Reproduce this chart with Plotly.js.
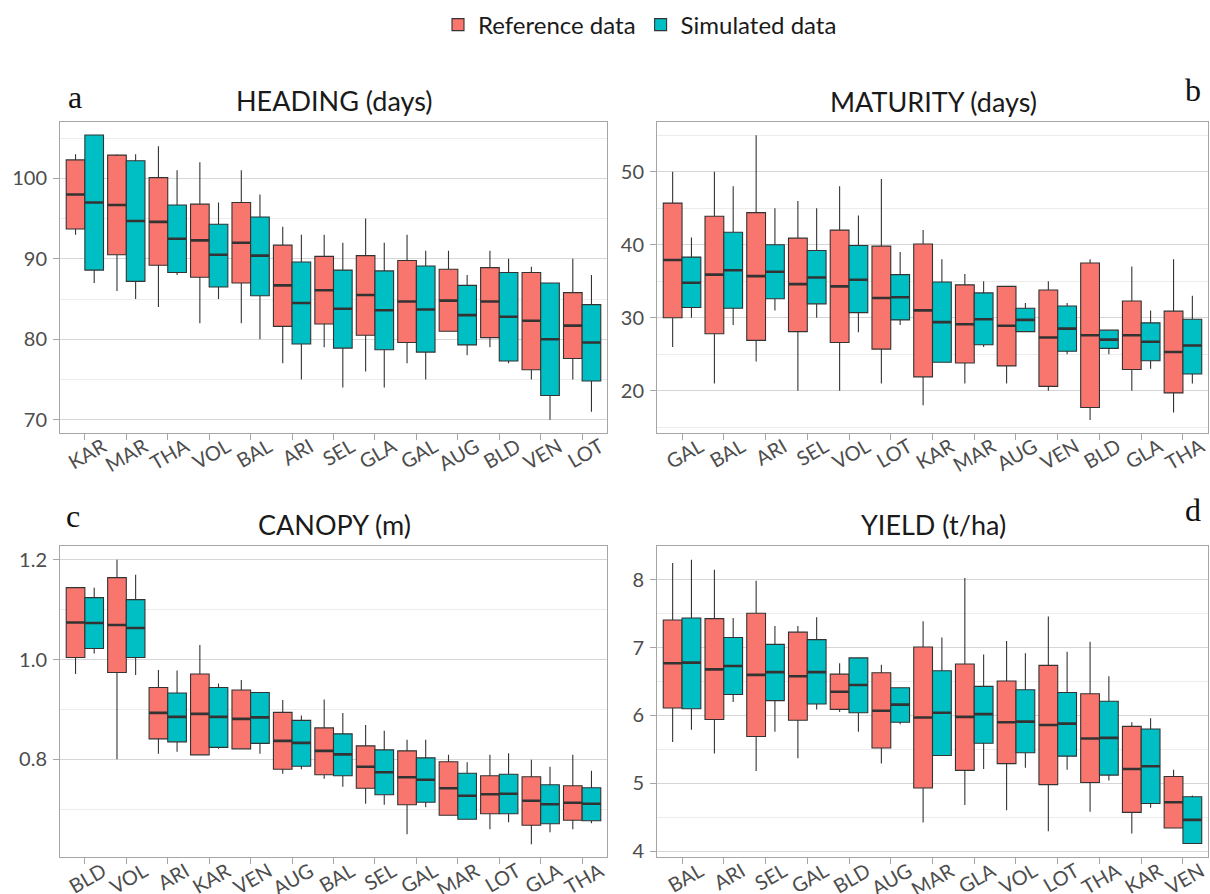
<!DOCTYPE html>
<html>
<head>
<meta charset="utf-8">
<script src="https://cdn.plot.ly/plotly-3.0.1.min.js"></script>
<style>
  html, body { margin: 0; padding: 0; background: #ffffff; }
  #chart { width: 1210px; height: 894px; }
</style>
</head>
<body>
<div id="chart"></div>
<script>
// Box statistics per variety: [lower whisker, Q1, median, Q3, upper whisker]

// a — heading (days)
const headingCats = ["KAR", "MAR", "THA", "VOL", "BAL", "ARI", "SEL", "GLA", "GAL", "AUG", "BLD", "VEN", "LOT"];
const headingRef = [
  [93.0, 93.7, 98.0, 102.3, 103.0],
  [86.0, 90.5, 96.7, 102.9, 103.0],
  [84.0, 89.2, 94.6, 100.1, 104.0],
  [82.0, 87.7, 92.3, 96.8, 102.0],
  [82.0, 87.0, 92.0, 97.0, 101.0],
  [77.0, 81.6, 86.7, 91.7, 94.0],
  [79.0, 81.9, 86.1, 90.3, 93.0],
  [76.0, 80.5, 85.5, 90.4, 95.0],
  [77.0, 79.6, 84.7, 89.8, 93.0],
  [81.0, 81.0, 84.8, 88.7, 91.0],
  [79.0, 80.2, 84.7, 88.9, 91.0],
  [75.0, 76.2, 82.3, 88.3, 89.0],
  [75.0, 77.6, 81.7, 85.8, 90.0]
];
const headingSim = [
  [87.0, 88.6, 97.0, 105.4, 105.4],
  [85.0, 87.2, 94.7, 102.2, 103.0],
  [88.0, 88.3, 92.5, 96.7, 101.0],
  [85.0, 86.5, 90.5, 94.3, 97.0],
  [80.0, 85.4, 90.4, 95.2, 98.0],
  [75.0, 79.4, 84.5, 89.6, 93.0],
  [74.0, 78.9, 83.8, 88.6, 92.0],
  [74.0, 78.7, 83.6, 88.5, 92.0],
  [75.0, 78.4, 83.7, 89.1, 91.0],
  [78.0, 79.3, 83.0, 86.7, 88.0],
  [77.0, 77.3, 82.8, 88.3, 90.0],
  [70.0, 73.0, 80.0, 87.0, 87.0],
  [71.0, 74.8, 79.6, 84.3, 88.0]
];

// b — maturity (days)
const maturityCats = ["GAL", "BAL", "ARI", "SEL", "VOL", "LOT", "KAR", "MAR", "AUG", "VEN", "BLD", "GLA", "THA"];
const maturityRef = [
  [26.0, 30.0, 37.9, 45.7, 50.0],
  [21.0, 27.8, 35.9, 43.9, 50.0],
  [24.0, 26.9, 35.7, 44.4, 55.0],
  [20.0, 28.1, 34.6, 40.9, 46.0],
  [20.0, 26.6, 34.3, 42.0, 48.0],
  [21.0, 25.7, 32.7, 39.8, 49.0],
  [18.0, 21.9, 31.0, 40.1, 42.0],
  [21.0, 23.8, 29.1, 34.5, 36.0],
  [21.0, 23.4, 28.9, 34.3, 34.3],
  [20.0, 20.6, 27.3, 33.8, 35.0],
  [16.0, 17.7, 27.6, 37.5, 38.0],
  [20.0, 22.9, 27.6, 32.3, 37.0],
  [17.0, 19.7, 25.3, 30.9, 38.0]
];
const maturitySim = [
  [30.0, 31.4, 34.8, 38.3, 41.0],
  [29.0, 31.3, 36.5, 41.7, 48.0],
  [31.0, 32.6, 36.3, 40.0, 45.0],
  [30.0, 31.9, 35.5, 39.2, 45.0],
  [28.0, 30.7, 35.2, 39.9, 44.0],
  [29.0, 29.7, 32.8, 35.9, 39.0],
  [23.9, 23.9, 29.4, 34.9, 38.0],
  [26.0, 26.3, 29.8, 33.4, 35.0],
  [28.1, 28.1, 29.7, 31.3, 32.0],
  [25.0, 25.4, 28.5, 31.6, 32.0],
  [25.0, 25.8, 27.0, 28.3, 28.3],
  [23.0, 24.1, 26.7, 29.3, 31.0],
  [21.0, 22.3, 26.2, 29.8, 33.0]
];

// c — canopy height (m)
const canopyCats = ["BLD", "VOL", "ARI", "KAR", "VEN", "AUG", "BAL", "SEL", "GAL", "MAR", "LOT", "GLA", "THA"];
const canopyRef = [
  [0.971, 1.004, 1.074, 1.144, 1.144],
  [0.800, 0.974, 1.069, 1.164, 1.200],
  [0.811, 0.841, 0.893, 0.944, 0.979],
  [0.809, 0.809, 0.891, 0.971, 1.029],
  [0.821, 0.821, 0.881, 0.939, 0.959],
  [0.771, 0.780, 0.837, 0.894, 0.919],
  [0.761, 0.769, 0.817, 0.863, 0.920],
  [0.711, 0.742, 0.785, 0.827, 0.869],
  [0.650, 0.709, 0.764, 0.817, 0.839],
  [0.688, 0.688, 0.742, 0.795, 0.809],
  [0.660, 0.691, 0.730, 0.767, 0.809],
  [0.630, 0.668, 0.717, 0.765, 0.799],
  [0.660, 0.678, 0.713, 0.747, 0.809]
];
const canopySim = [
  [1.012, 1.022, 1.073, 1.124, 1.144],
  [0.969, 1.004, 1.063, 1.120, 1.170],
  [0.815, 0.835, 0.885, 0.933, 0.978],
  [0.821, 0.824, 0.885, 0.944, 0.952],
  [0.811, 0.832, 0.884, 0.934, 0.934],
  [0.780, 0.786, 0.833, 0.878, 0.888],
  [0.745, 0.767, 0.810, 0.851, 0.893],
  [0.709, 0.729, 0.774, 0.819, 0.857],
  [0.704, 0.714, 0.759, 0.803, 0.839],
  [0.680, 0.680, 0.727, 0.772, 0.794],
  [0.674, 0.691, 0.731, 0.770, 0.812],
  [0.654, 0.671, 0.710, 0.749, 0.785],
  [0.672, 0.677, 0.711, 0.743, 0.777]
];

// d — grain yield (t/ha)
const yieldCats = ["BAL", "ARI", "SEL", "GAL", "BLD", "AUG", "MAR", "GLA", "VOL", "LOT", "THA", "KAR", "VEN"];
const yieldRef = [
  [5.61, 6.11, 6.77, 7.41, 8.25],
  [5.44, 5.94, 6.68, 7.43, 8.15],
  [5.18, 5.69, 6.60, 7.51, 7.99],
  [5.37, 5.93, 6.58, 7.23, 7.32],
  [6.05, 6.09, 6.35, 6.61, 6.77],
  [5.29, 5.52, 6.07, 6.63, 6.75],
  [4.42, 4.93, 5.97, 7.01, 7.39],
  [4.68, 5.19, 5.98, 6.76, 8.03],
  [4.60, 5.29, 5.90, 6.51, 7.10],
  [4.29, 4.98, 5.86, 6.74, 7.46],
  [4.58, 5.01, 5.66, 6.32, 7.09],
  [4.26, 4.57, 5.21, 5.84, 5.90],
  [4.34, 4.34, 4.72, 5.10, 5.20]
];
const yieldSim = [
  [5.79, 6.10, 6.78, 7.44, 8.30],
  [6.20, 6.31, 6.73, 7.15, 7.44],
  [5.76, 6.22, 6.64, 7.05, 7.32],
  [6.09, 6.17, 6.64, 7.12, 7.45],
  [5.76, 6.04, 6.45, 6.85, 6.85],
  [5.87, 5.90, 6.16, 6.41, 6.41],
  [5.41, 5.41, 6.04, 6.66, 7.15],
  [5.21, 5.59, 6.02, 6.43, 6.90],
  [5.23, 5.45, 5.91, 6.38, 6.92],
  [5.20, 5.40, 5.88, 6.34, 6.94],
  [5.04, 5.12, 5.67, 6.21, 6.58],
  [4.64, 4.70, 5.25, 5.80, 5.96],
  [4.11, 4.11, 4.46, 4.80, 4.82]
];

const seriesNames = ["Reference data", "Simulated data"];
const seriesColors = ["#F8766D", "#00BFC4"];
const outline = "#333333";

const W = 1210, H = 894;
const px = v => v / W;
const py = v => 1 - v / H;

const panels = [
  { cats: headingCats, ref: headingRef, sim: headingSim, xa: "x", ya: "y",
    xd: [60, 607], yd: [121.7, 432.7], range: [68.38, 107.05], dtick: 10, minor: 5, fmt: "" },
  { cats: maturityCats, ref: maturityRef, sim: maturitySim, xa: "x2", ya: "y2",
    xd: [657, 1208], yd: [121.7, 432.7], range: [14.25, 56.85], dtick: 10, minor: 5, fmt: "" },
  { cats: canopyCats, ref: canopyRef, sim: canopySim, xa: "x3", ya: "y3",
    xd: [60, 607], yd: [545.7, 857.3], range: [0.6037, 1.228], dtick: 0.2, minor: 0.1, fmt: ".1f" },
  { cats: yieldCats, ref: yieldRef, sim: yieldSim, xa: "x4", ya: "y4",
    xd: [657, 1208], yd: [545.7, 857.3], range: [3.907, 8.506], dtick: 1, minor: 0.5, fmt: "" }
];

const col = (rows, i) => rows.map(r => r[i]);

const traces = [];
panels.forEach((p, pi) => {
  [p.ref, p.sim].forEach((rows, si) => {
    traces.push({
      type: "box",
      name: seriesNames[si],
      legendgroup: seriesNames[si],
      showlegend: pi === 0,
      offsetgroup: "g" + si,
      xaxis: p.xa, yaxis: p.ya,
      x: p.cats,
      lowerfence: col(rows, 0),
      q1: col(rows, 1),
      median: col(rows, 2),
      q3: col(rows, 3),
      upperfence: col(rows, 4),
      fillcolor: seriesColors[si],
      line: { color: outline, width: 1.1 },
      whiskerwidth: 0,
      boxpoints: false,
      hoverinfo: "skip"
    });
  });
  // thicker median bars drawn over each box
  [p.ref, p.sim].forEach((rows, si) => {
    const med = col(rows, 2);
    traces.push({
      type: "box",
      name: seriesNames[si] + " median",
      showlegend: false,
      offsetgroup: "g" + si,
      xaxis: p.xa, yaxis: p.ya,
      x: p.cats,
      lowerfence: med, q1: med, median: med, q3: med, upperfence: med,
      fillcolor: "rgba(0,0,0,0)",
      line: { color: outline, width: 2.6 },
      whiskerwidth: 0,
      boxpoints: false,
      hoverinfo: "skip"
    });
  });
});

const layout = {
  width: W, height: H,
  margin: { l: 0, r: 0, t: 0, b: 0 },
  paper_bgcolor: "#ffffff",
  plot_bgcolor: "#ffffff",
  font: { family: "Lato, 'Open Sans', sans-serif", color: "#4d4d4d", size: 20 },
  boxmode: "group",
  boxgap: 0.1,
  boxgroupgap: 0,
  showlegend: true,
  legend: {
    orientation: "h",
    x: px(640), xanchor: "center",
    y: py(25), yanchor: "middle",
    font: { size: 24, color: "#1a1a1a" },
    bgcolor: "rgba(0,0,0,0)",
    itemclick: false
  },
  annotations: []
};

panels.forEach((p, i) => {
  const s = i === 0 ? "" : String(i + 1);
  layout["xaxis" + s] = {
    domain: [px(p.xd[0]), px(p.xd[1])],
    anchor: p.ya,
    type: "category",
    categoryorder: "array",
    categoryarray: p.cats,
    range: [-0.6, p.cats.length - 0.4],
    showgrid: false,
    zeroline: false,
    showline: true, mirror: true, linecolor: "#a6a6a6", linewidth: 1,
    ticks: "outside", ticklen: 6, tickcolor: "#a6a6a6", tickwidth: 1,
    tickangle: -30,
    ticklabelshift: 18,
    ticklabelstandoff: -12,
    tickfont: { size: 20, color: "#4d4d4d" },
    fixedrange: true
  };
  layout["yaxis" + s] = {
    domain: [py(p.yd[1]), py(p.yd[0])],
    anchor: p.xa,
    range: p.range,
    dtick: p.dtick,
    tick0: 0,
    tickformat: p.fmt,
    showgrid: true, gridcolor: "#d6d6d6", gridwidth: 1,
    minor: { dtick: p.minor, tick0: 0, showgrid: true, gridcolor: "#ececec", gridwidth: 1 },
    zeroline: false,
    showline: true, mirror: true, linecolor: "#a6a6a6", linewidth: 1,
    ticks: "outside", ticklen: 6, tickcolor: "#a6a6a6", tickwidth: 1,
    ticklabelstandoff: 2,
    tickfont: { size: 20, color: "#4d4d4d" },
    fixedrange: true
  };
});

// panel titles
const titles = [
  { text: "HEADING (days)", x: 334, y: 100 },
  { text: "MATURITY (days)", x: 933, y: 101 },
  { text: "CANOPY (m)", x: 334, y: 524 },
  { text: "YIELD (t/ha)", x: 933, y: 524 }
];
titles.forEach(t => layout.annotations.push({
  xref: "paper", yref: "paper", x: px(t.x), y: py(t.y),
  xanchor: "center", yanchor: "middle", showarrow: false,
  text: t.text, font: { family: "Lato, sans-serif", size: 27, color: "#1a1a1a" }
}));

// panel letters
const letters = [
  { text: "a", x: 75, y: 97 },
  { text: "b", x: 1193, y: 90 },
  { text: "c", x: 73, y: 516 },
  { text: "d", x: 1193, y: 510 }
];
letters.forEach(t => layout.annotations.push({
  xref: "paper", yref: "paper", x: px(t.x), y: py(t.y),
  xanchor: "center", yanchor: "middle", showarrow: false,
  text: t.text, font: { family: "'Liberation Serif', 'DejaVu Serif', serif", size: 32, color: "#111111" }
}));

Plotly.newPlot("chart", traces, layout, { displayModeBar: false, staticPlot: true });
</script>
</body>
</html>
